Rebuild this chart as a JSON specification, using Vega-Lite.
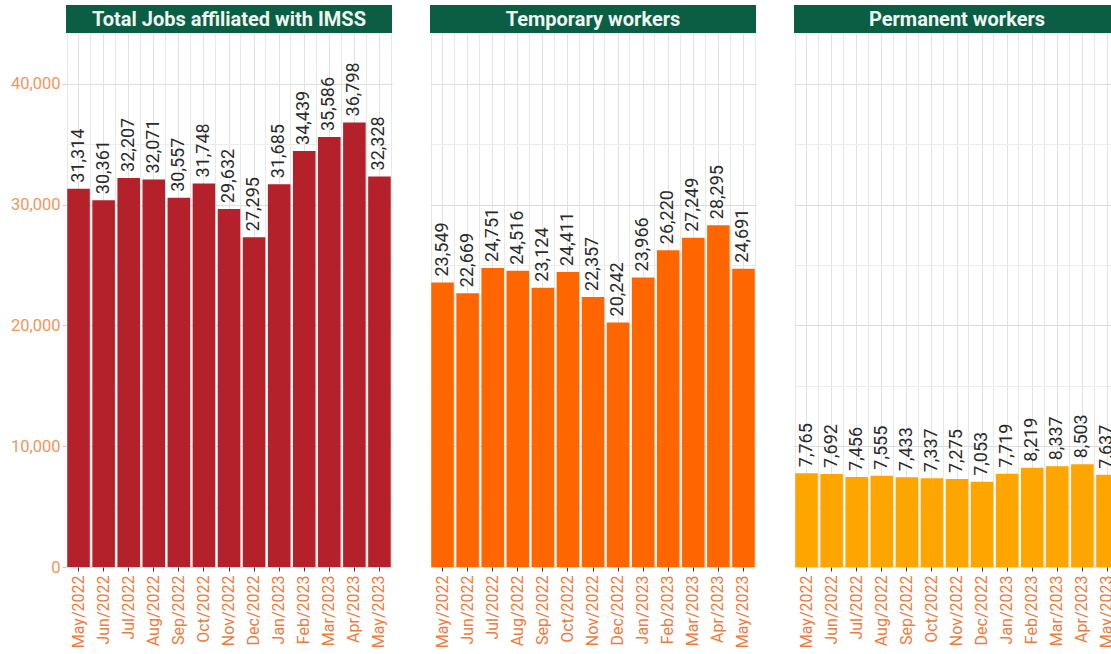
{
  "$schema": "https://vega.github.io/schema/vega-lite/v6.json",
  "padding": {"left": 10, "top": 5, "right": 5, "bottom": 5},
  "background": "white",
  "config": {
    "font": "Roboto",
    "view": {"stroke": null},
    "concat": {"spacing": 38}
  },
  "datasets": {
    "jobs": [
      {"panel": "total", "month": "May/2022", "value": 31314},
      {"panel": "total", "month": "Jun/2022", "value": 30361},
      {"panel": "total", "month": "Jul/2022", "value": 32207},
      {"panel": "total", "month": "Aug/2022", "value": 32071},
      {"panel": "total", "month": "Sep/2022", "value": 30557},
      {"panel": "total", "month": "Oct/2022", "value": 31748},
      {"panel": "total", "month": "Nov/2022", "value": 29632},
      {"panel": "total", "month": "Dec/2022", "value": 27295},
      {"panel": "total", "month": "Jan/2023", "value": 31685},
      {"panel": "total", "month": "Feb/2023", "value": 34439},
      {"panel": "total", "month": "Mar/2023", "value": 35586},
      {"panel": "total", "month": "Apr/2023", "value": 36798},
      {"panel": "total", "month": "May/2023", "value": 32328},
      {"panel": "temp", "month": "May/2022", "value": 23549},
      {"panel": "temp", "month": "Jun/2022", "value": 22669},
      {"panel": "temp", "month": "Jul/2022", "value": 24751},
      {"panel": "temp", "month": "Aug/2022", "value": 24516},
      {"panel": "temp", "month": "Sep/2022", "value": 23124},
      {"panel": "temp", "month": "Oct/2022", "value": 24411},
      {"panel": "temp", "month": "Nov/2022", "value": 22357},
      {"panel": "temp", "month": "Dec/2022", "value": 20242},
      {"panel": "temp", "month": "Jan/2023", "value": 23966},
      {"panel": "temp", "month": "Feb/2023", "value": 26220},
      {"panel": "temp", "month": "Mar/2023", "value": 27249},
      {"panel": "temp", "month": "Apr/2023", "value": 28295},
      {"panel": "temp", "month": "May/2023", "value": 24691},
      {"panel": "perm", "month": "May/2022", "value": 7765},
      {"panel": "perm", "month": "Jun/2022", "value": 7692},
      {"panel": "perm", "month": "Jul/2022", "value": 7456},
      {"panel": "perm", "month": "Aug/2022", "value": 7555},
      {"panel": "perm", "month": "Sep/2022", "value": 7433},
      {"panel": "perm", "month": "Oct/2022", "value": 7337},
      {"panel": "perm", "month": "Nov/2022", "value": 7275},
      {"panel": "perm", "month": "Dec/2022", "value": 7053},
      {"panel": "perm", "month": "Jan/2023", "value": 7719},
      {"panel": "perm", "month": "Feb/2023", "value": 8219},
      {"panel": "perm", "month": "Mar/2023", "value": 8337},
      {"panel": "perm", "month": "Apr/2023", "value": 8503},
      {"panel": "perm", "month": "May/2023", "value": 7637}
    ],
    "titles": [
      {"panel": "total", "title": "Total Jobs affiliated with IMSS"},
      {"panel": "temp", "title": "Temporary workers"},
      {"panel": "perm", "title": "Permanent workers"}
    ]
  },
  "hconcat": [
    {
      "vconcat": [
        {
          "width": 326, "height": 28,
          "view": {"fill": "#0b5e44", "stroke": null},
          "data": {"name": "titles"},
          "transform": [{"filter": "datum.panel === 'total'"}],
          "mark": {"type": "text", "font": "Roboto", "fontWeight": "bold", "fontSize": 20, "color": "#eef7f1", "baseline": "middle", "align": "center", "dy": 1},
          "encoding": {"text": {"field": "title"}}
        },
        {
          "width": 326, "height": 534,
          "data": {"name": "jobs"},
          "transform": [{"filter": "datum.panel === 'total'"}],
          "encoding": {
            "y": {"field": "value", "type": "quantitative", "scale": {"domain": [0, 44200], "nice": false, "zero": true},
              "axis": {"title": null, "domain": false, "values": [0,5000,10000,15000,20000,25000,30000,35000,40000],
                "labelExpr": "datum.value % 10000 === 0 ? format(datum.value, ',') : ''",
                "labelColor": "#f3955a", "labelFontSize": 16.5, "labelFont": "Roboto", "labelPadding": 2,
                "tickColor": "#cccccc", "tickSize": 4,
                "tickOpacity": {"condition": {"test": "datum.value % 10000 !== 0", "value": 0}, "value": 1},
                "gridColor": {"condition": {"test": "datum.value % 10000 !== 0", "value": "#ececec"}, "value": "#dedede"}}}
          },
          "layer": [
            {
              "mark": {"type": "bar", "color": "#b5212a"},
              "encoding": {
                "x": {"field": "month", "type": "nominal", "sort": null, "scale": {"paddingInner": 0.1, "paddingOuter": 0.05},
                  "axis": {"title": null, "domain": false, "labelAngle": 270, "labelAlign": "right", "labelBaseline": "middle",
                    "labelColor": "#f07a3c", "labelFontSize": 16, "labelFont": "Roboto", "labelPadding": 4,
                    "tickColor": "#333333", "tickSize": 4, "grid": true, "gridColor": "#e2e2e2"}}
              }
            },
            {
              "mark": {"type": "text", "angle": 270, "align": "left", "baseline": "middle", "dx": 6, "fontSize": 18, "color": "#2b2b2b", "font": "Roboto"},
              "encoding": {
                "x": {"field": "month", "type": "nominal", "sort": null,
                  "axis": {"orient": "top", "title": null, "labels": false, "ticks": false, "domain": false, "grid": true, "tickBand": "extent", "gridColor": "#e8e8e8"}},
                "text": {"field": "value", "type": "quantitative", "format": ","}
              }
            }
          ],
          "resolve": {"axis": {"x": "independent"}}
        }
      ],
      "spacing": 0,
      "bounds": "flush"
    },
    {
      "vconcat": [
        {
          "width": 326, "height": 28,
          "view": {"fill": "#0b5e44", "stroke": null},
          "data": {"name": "titles"},
          "transform": [{"filter": "datum.panel === 'temp'"}],
          "mark": {"type": "text", "font": "Roboto", "fontWeight": "bold", "fontSize": 20, "color": "#eef7f1", "baseline": "middle", "align": "center", "dy": 1},
          "encoding": {"text": {"field": "title"}}
        },
        {
          "width": 326, "height": 534,
          "data": {"name": "jobs"},
          "transform": [{"filter": "datum.panel === 'temp'"}],
          "encoding": {
            "y": {"field": "value", "type": "quantitative", "scale": {"domain": [0, 44200], "nice": false, "zero": true},
              "axis": {"title": null, "domain": false, "labels": false, "ticks": false, "values": [0,5000,10000,15000,20000,25000,30000,35000,40000],
                "gridColor": {"condition": {"test": "datum.value % 10000 !== 0", "value": "#ececec"}, "value": "#dedede"}}}
          },
          "layer": [
            {
              "mark": {"type": "bar", "color": "#ff6600"},
              "encoding": {
                "x": {"field": "month", "type": "nominal", "sort": null, "scale": {"paddingInner": 0.1, "paddingOuter": 0.05},
                  "axis": {"title": null, "domain": false, "labelAngle": 270, "labelAlign": "right", "labelBaseline": "middle",
                    "labelColor": "#f07a3c", "labelFontSize": 16, "labelFont": "Roboto", "labelPadding": 4,
                    "tickColor": "#333333", "tickSize": 4, "grid": true, "gridColor": "#e2e2e2"}}
              }
            },
            {
              "mark": {"type": "text", "angle": 270, "align": "left", "baseline": "middle", "dx": 6, "fontSize": 18, "color": "#2b2b2b", "font": "Roboto"},
              "encoding": {
                "x": {"field": "month", "type": "nominal", "sort": null,
                  "axis": {"orient": "top", "title": null, "labels": false, "ticks": false, "domain": false, "grid": true, "tickBand": "extent", "gridColor": "#e8e8e8"}},
                "text": {"field": "value", "type": "quantitative", "format": ","}
              }
            }
          ],
          "resolve": {"axis": {"x": "independent"}}
        }
      ],
      "spacing": 0,
      "bounds": "flush"
    },
    {
      "vconcat": [
        {
          "width": 326, "height": 28,
          "view": {"fill": "#0b5e44", "stroke": null},
          "data": {"name": "titles"},
          "transform": [{"filter": "datum.panel === 'perm'"}],
          "mark": {"type": "text", "font": "Roboto", "fontWeight": "bold", "fontSize": 20, "color": "#eef7f1", "baseline": "middle", "align": "center", "dy": 1},
          "encoding": {"text": {"field": "title"}}
        },
        {
          "width": 326, "height": 534,
          "data": {"name": "jobs"},
          "transform": [{"filter": "datum.panel === 'perm'"}],
          "encoding": {
            "y": {"field": "value", "type": "quantitative", "scale": {"domain": [0, 44200], "nice": false, "zero": true},
              "axis": {"title": null, "domain": false, "labels": false, "ticks": false, "values": [0,5000,10000,15000,20000,25000,30000,35000,40000],
                "gridColor": {"condition": {"test": "datum.value % 10000 !== 0", "value": "#ececec"}, "value": "#dedede"}}}
          },
          "layer": [
            {
              "mark": {"type": "bar", "color": "#ffa500"},
              "encoding": {
                "x": {"field": "month", "type": "nominal", "sort": null, "scale": {"paddingInner": 0.1, "paddingOuter": 0.05},
                  "axis": {"title": null, "domain": false, "labelAngle": 270, "labelAlign": "right", "labelBaseline": "middle",
                    "labelColor": "#f07a3c", "labelFontSize": 16, "labelFont": "Roboto", "labelPadding": 4,
                    "tickColor": "#333333", "tickSize": 4, "grid": true, "gridColor": "#e2e2e2"}}
              }
            },
            {
              "mark": {"type": "text", "angle": 270, "align": "left", "baseline": "middle", "dx": 6, "fontSize": 18, "color": "#2b2b2b", "font": "Roboto"},
              "encoding": {
                "x": {"field": "month", "type": "nominal", "sort": null,
                  "axis": {"orient": "top", "title": null, "labels": false, "ticks": false, "domain": false, "grid": true, "tickBand": "extent", "gridColor": "#e8e8e8"}},
                "text": {"field": "value", "type": "quantitative", "format": ","}
              }
            }
          ],
          "resolve": {"axis": {"x": "independent"}}
        }
      ],
      "spacing": 0,
      "bounds": "flush"
    }
  ]
}
